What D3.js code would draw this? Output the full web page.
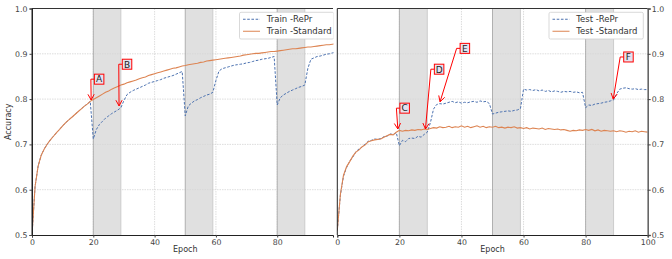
<!DOCTYPE html>
<html>
<head>
<meta charset="utf-8">
<script src="https://cdn.jsdelivr.net/npm/d3@7"></script>
<style>
  body { margin: 0; background: #fff; }
  svg { display: block; font-family: "DejaVu Sans", sans-serif; }
</style>
</head>
<body>
<svg width="672" height="259"></svg>
<script>
// accuracy per epoch
const trainStandard = [
  0.500, 0.607, 0.652, 0.676, 0.690, 0.701, 0.710, 0.718, 0.726, 0.733,
  0.741, 0.748, 0.754, 0.760, 0.766, 0.772, 0.778, 0.784, 0.789, 0.795,
  0.799, 0.803, 0.807, 0.811, 0.815, 0.818, 0.822, 0.825, 0.828, 0.831,
  0.833, 0.836, 0.838, 0.840, 0.842, 0.845, 0.847, 0.849, 0.852, 0.854,
  0.856, 0.858, 0.860, 0.862, 0.864, 0.866, 0.868, 0.869, 0.871, 0.873,
  0.874, 0.876, 0.877, 0.878, 0.879, 0.881, 0.882, 0.884, 0.885, 0.886,
  0.887, 0.888, 0.889, 0.890, 0.891, 0.892, 0.893, 0.894, 0.895, 0.897,
  0.898, 0.899, 0.900, 0.901, 0.901, 0.902, 0.903, 0.904, 0.905, 0.905,
  0.906, 0.907, 0.908, 0.909, 0.910, 0.911, 0.911, 0.912, 0.913, 0.914,
  0.915, 0.915, 0.916, 0.917, 0.918, 0.919, 0.920, 0.920, 0.921, 0.922
];
const trainRepr = [
  0.500, 0.607, 0.652, 0.676, 0.690, 0.701, 0.710, 0.718, 0.726, 0.733,
  0.741, 0.748, 0.754, 0.760, 0.766, 0.772, 0.778, 0.784, 0.789, 0.795,
  0.712, 0.733, 0.744, 0.751, 0.758, 0.763, 0.768, 0.772, 0.776, 0.781,
  0.797, 0.810, 0.815, 0.819, 0.822, 0.825, 0.828, 0.831, 0.835, 0.837,
  0.839, 0.841, 0.843, 0.846, 0.848, 0.850, 0.852, 0.855, 0.858, 0.861,
  0.763, 0.785, 0.791, 0.796, 0.799, 0.803, 0.806, 0.809, 0.811, 0.815,
  0.841, 0.862, 0.867, 0.869, 0.871, 0.873, 0.875, 0.876, 0.877, 0.878,
  0.880, 0.881, 0.883, 0.885, 0.886, 0.888, 0.889, 0.890, 0.892, 0.894,
  0.787, 0.803, 0.809, 0.813, 0.817, 0.820, 0.823, 0.826, 0.828, 0.831,
  0.868, 0.888, 0.891, 0.894, 0.895, 0.897, 0.899, 0.900, 0.902, 0.903
];
const testStandard = [
  0.510, 0.590, 0.632, 0.651, 0.662, 0.674, 0.683, 0.688, 0.695, 0.699,
  0.706, 0.708, 0.710, 0.711, 0.712, 0.716, 0.719, 0.722, 0.721, 0.727,
  0.731, 0.729, 0.731, 0.730, 0.732, 0.731, 0.733, 0.732, 0.734, 0.733,
  0.735, 0.737, 0.736, 0.739, 0.737, 0.738, 0.740, 0.737, 0.739, 0.738,
  0.741, 0.738, 0.740, 0.737, 0.739, 0.741, 0.738, 0.740, 0.737, 0.739,
  0.738, 0.740, 0.737, 0.738, 0.736, 0.738, 0.737, 0.739, 0.736, 0.737,
  0.735, 0.737, 0.734, 0.736, 0.735, 0.734, 0.736, 0.733, 0.735, 0.734,
  0.733, 0.734, 0.732, 0.733, 0.731, 0.729, 0.731, 0.730, 0.732, 0.731,
  0.733, 0.731, 0.733, 0.730, 0.732, 0.729, 0.731, 0.730, 0.729, 0.730,
  0.728, 0.730, 0.729, 0.727, 0.729, 0.728, 0.730, 0.727, 0.729, 0.728,
  0.727
];
const testRepr = [
  0.510, 0.588, 0.630, 0.649, 0.663, 0.672, 0.684, 0.690, 0.694, 0.701,
  0.707, 0.709, 0.712, 0.711, 0.713, 0.717, 0.718, 0.723, 0.722, 0.726,
  0.697, 0.709, 0.706, 0.713, 0.714, 0.713, 0.718, 0.716, 0.722, 0.727,
  0.748, 0.778, 0.788, 0.790, 0.789, 0.791, 0.793, 0.795, 0.792, 0.794,
  0.791, 0.793, 0.792, 0.794, 0.795, 0.793, 0.796, 0.794, 0.795, 0.790,
  0.767, 0.769, 0.771, 0.772, 0.773, 0.774, 0.773, 0.775, 0.776, 0.779,
  0.822, 0.820, 0.821, 0.819, 0.821, 0.818, 0.820, 0.817, 0.819, 0.816,
  0.818, 0.817, 0.815, 0.817, 0.816, 0.817, 0.815, 0.816, 0.814, 0.815,
  0.781, 0.787, 0.786, 0.789, 0.790, 0.791, 0.793, 0.794, 0.796, 0.798,
  0.812, 0.822, 0.824, 0.825, 0.823, 0.822, 0.823, 0.821, 0.822, 0.821,
  0.821
];

// pruning windows (epochs)
const shadeStart = [20, 50, 80];
const shadeEnd = [29, 59, 89];

const yTicks = [0.5, 0.6, 0.7, 0.8, 0.9, 1.0];
const xTicks = [0, 20, 40, 60, 80, 100];

// callouts: label, panel, arrow tip (epoch, acc), box centre (epoch, acc)
const annLabels = ['A', 'B', 'C', 'D', 'E', 'F'];
const annPanel = ['train', 'train', 'test', 'test', 'test', 'test'];
const annTip = [[19.3, 0.798], [28.4, 0.785], [19.5, 0.734], [28.4, 0.734], [33.1, 0.794], [88.9, 0.800]];
const annBox = [[21.9, 0.844], [31.0, 0.877], [21.7, 0.780], [32.8, 0.866], [41.1, 0.912], [93.8, 0.893]];

const blue = '#4c72b0';
const orange = '#dd8452';

const svg = d3.select('svg');
const y = d3.scaleLinear().domain([0.5, 1.0]).range([235, 8.5]);

const panels = {
  train: {
    x: d3.scaleLinear().domain([0, 98.2]).range([32, 333]),
    repr: trainRepr, std: trainStandard,
    names: ['Train -RePr', 'Train -Standard'],
    legendX: 239.5, side: 'left'
  },
  test: {
    x: d3.scaleLinear().domain([0, 100]).range([337.3, 647.7]),
    repr: testRepr, std: testStandard,
    names: ['Test -RePr', 'Test -Standard'],
    legendX: 549, side: 'right'
  }
};

const defs = svg.append('defs');

function drawPanel(key) {
  const p = panels[key];
  const x = p.x;
  const [x0, x1] = x.range();
  const [yb, yt] = y.range();

  defs.append('clipPath').attr('id', 'clip-' + key)
    .append('rect').attr('x', x0).attr('y', yt).attr('width', x1 - x0 + (key === 'train' ? 0.5 : 0)).attr('height', yb - yt);

  const g = svg.append('g').attr('clip-path', `url(#clip-${key})`);

  // grid
  g.selectAll('.gy').data(yTicks.slice(1, -1)).enter().append('line')
    .attr('x1', x0).attr('x2', x1)
    .attr('y1', d => y(d)).attr('y2', d => y(d))
    .attr('stroke', '#d4d4d4').attr('stroke-width', 0.8).attr('stroke-dasharray', '1.5,1');
  g.selectAll('.gx').data(xTicks.filter(d => d > 0 && d < x.domain()[1])).enter().append('line')
    .attr('x1', d => x(d)).attr('x2', d => x(d))
    .attr('y1', yt).attr('y2', yb)
    .attr('stroke', '#d4d4d4').attr('stroke-width', 0.8).attr('stroke-dasharray', '1.5,1');

  // pruning windows
  shadeStart.forEach((s, i) => {
    g.append('rect')
      .attr('x', x(s)).attr('y', yt)
      .attr('width', x(shadeEnd[i]) - x(s)).attr('height', yb - yt)
      .attr('fill', '#d6d6d6').attr('opacity', 0.75);
    g.append('line').attr('x1', x(s)).attr('x2', x(s)).attr('y1', yt).attr('y2', yb)
      .attr('stroke', '#a8a8a8').attr('stroke-width', 0.9);
    g.append('line').attr('x1', x(shadeEnd[i])).attr('x2', x(shadeEnd[i])).attr('y1', yt).attr('y2', yb)
      .attr('stroke', '#c4c4c4').attr('stroke-width', 0.8);
  });

  const line = d3.line().x((d, i) => x(i)).y(d => y(d));
  g.append('path').datum(p.repr).attr('d', line)
    .attr('fill', 'none').attr('stroke', blue).attr('stroke-width', 1)
    .attr('stroke-dasharray', '2.6,1.6');
  g.append('path').datum(p.std).attr('d', line)
    .attr('fill', 'none').attr('stroke', orange).attr('stroke-width', 1.1);

  // callouts
  annLabels.forEach((lab, i) => {
    if (annPanel[i] !== key) return;
    const tx = x(annTip[i][0]), ty = y(annTip[i][1]);
    const bx = x(annBox[i][0]), by = y(annBox[i][1]);
    const bw = 9.5, bh = 10;
    const kx = bx - bw / 2 - 3.5, ky = by;
    g.append('path')
      .attr('d', `M${bx - bw / 2},${by}L${kx},${ky}L${tx},${ty}`)
      .attr('fill', 'none').attr('stroke', 'red').attr('stroke-width', 1);
    const ang = Math.atan2(ty - ky, tx - kx);
    const hl = 6.5, hw = 0.5;
    const a1 = ang + Math.PI - hw, a2 = ang + Math.PI + hw;
    g.append('path')
      .attr('d', `M${tx + hl * Math.cos(a1)},${ty + hl * Math.sin(a1)}L${tx},${ty}L${tx + hl * Math.cos(a2)},${ty + hl * Math.sin(a2)}`)
      .attr('fill', 'none').attr('stroke', 'red').attr('stroke-width', 1);
    g.append('rect')
      .attr('x', bx - bw / 2).attr('y', by - bh / 2).attr('width', bw).attr('height', bh)
      .attr('fill', '#e4e2ee').attr('stroke', 'red').attr('stroke-width', 1);
    g.append('text').attr('x', bx).attr('y', by + 3.3)
      .attr('text-anchor', 'middle').attr('font-size', 9).attr('fill', '#222')
      .text(lab);
  });

  // legend
  const lg = g.append('g').attr('transform', `translate(${p.legendX},12.3)`);
  lg.append('rect').attr('width', 94.3).attr('height', 26.7).attr('rx', 1.5)
    .attr('fill', '#fff').attr('stroke', '#cfcfcf').attr('stroke-width', 0.8);
  [[blue, '2.6,1.6'], [orange, null]].forEach((s, i) => {
    const yy = 7 + i * 12;
    lg.append('line').attr('x1', 3.5).attr('x2', 20.5).attr('y1', yy).attr('y2', yy)
      .attr('stroke', s[0]).attr('stroke-width', 1.1)
      .attr('stroke-dasharray', s[1]);
    lg.append('text').attr('x', 27.3).attr('y', yy + 3)
      .attr('font-size', 8.5).attr('fill', '#333').text(p.names[i]);
  });

  // spines + axes
  svg.append('line').attr('x1', x0).attr('x2', x1).attr('y1', yt).attr('y2', yt)
    .attr('stroke', '#333').attr('stroke-width', 1);
  svg.append('line').attr('x1', x0).attr('x2', x0).attr('y1', yt).attr('y2', yb)
    .attr('stroke', '#222').attr('stroke-width', 1);

  const xAxis = svg.append('g').attr('transform', `translate(0,${yb})`)
    .call(d3.axisBottom(x).tickValues(xTicks.filter(d => d <= x.domain()[1])).tickSize(2.5).tickPadding(2).tickFormat(d3.format('d')));
  xAxis.select('.domain').attr('stroke', '#222');
  xAxis.selectAll('.tick line').attr('stroke', '#444');
  xAxis.selectAll('text').attr('font-size', 7.8).attr('fill', '#444')
    .attr('font-family', '"DejaVu Sans", sans-serif');
  svg.append('text').attr('x', (x0 + (key === 'train' ? 338.6 : x1)) / 2).attr('y', 252)
    .attr('text-anchor', 'middle').attr('font-size', 8).attr('fill', '#333').text('Epoch');

  if (p.side === 'left') {
    const yAxis = svg.append('g').attr('transform', `translate(${x0},0)`)
      .call(d3.axisLeft(y).tickValues(yTicks).tickSize(2.5).tickPadding(2).tickFormat(d3.format('.1f')));
    yAxis.select('.domain').attr('stroke', '#222');
    yAxis.selectAll('.tick line').attr('stroke', '#444');
    yAxis.selectAll('text').attr('font-size', 7.8).attr('fill', '#444')
      .attr('font-family', '"DejaVu Sans", sans-serif');
    svg.append('text').attr('transform', `translate(11,${(yt + yb) / 2}) rotate(-90)`)
      .attr('text-anchor', 'middle').attr('font-size', 8).attr('fill', '#333').text('Accuracy');
  } else {
    const yAxis = svg.append('g').attr('transform', `translate(${x1},0)`)
      .call(d3.axisRight(y).tickValues(yTicks).tickSize(3).tickPadding(1).tickFormat(d3.format('.1f')));
    yAxis.select('.domain').attr('stroke', '#666').attr('stroke-width', 1.6);
    yAxis.selectAll('.tick line').attr('stroke', '#444');
    yAxis.selectAll('text').attr('font-size', 7.8).attr('fill', '#444')
      .attr('font-family', '"DejaVu Sans", sans-serif');
  }
}

drawPanel('train');
drawPanel('test');
</script>
</body>
</html>
